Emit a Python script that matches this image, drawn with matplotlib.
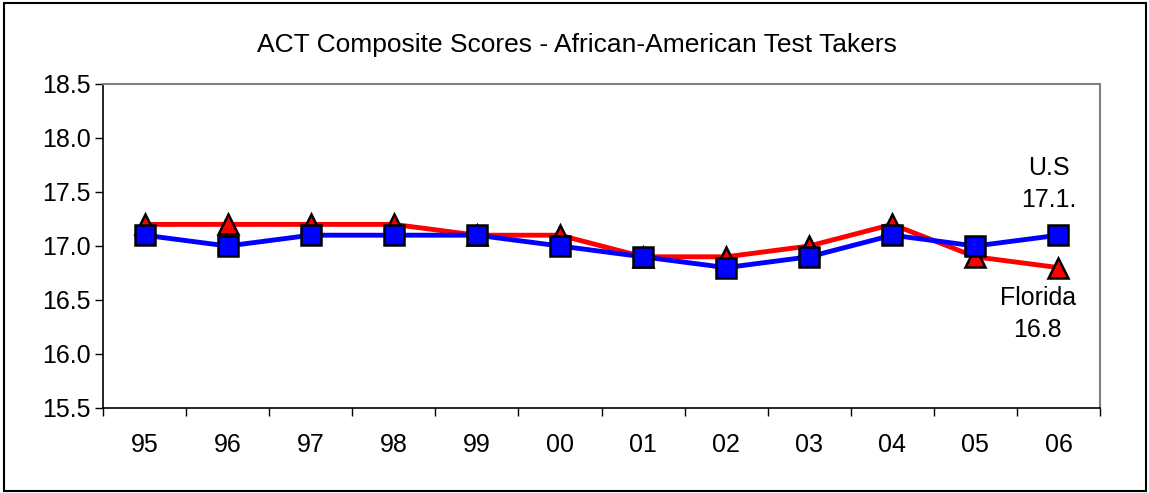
import numpy as np
import matplotlib.pyplot as plt
from matplotlib.patches import Rectangle

plt.rcParams['font.family'] = ['Liberation Sans', 'DejaVu Sans']

years = ['95', '96', '97', '98', '99', '00', '01', '02', '03', '04', '05', '06']
us_scores = [17.1, 17.0, 17.1, 17.1, 17.1, 17.0, 16.9, 16.8, 16.9, 17.1, 17.0, 17.1]
fl_scores = [17.2, 17.2, 17.2, 17.2, 17.1, 17.1, 16.9, 16.9, 17.0, 17.2, 16.9, 16.8]

W, H = 1149, 493
fig = plt.figure(figsize=(W / 100, H / 100), dpi=100)
ax = fig.add_axes([103 / W, 1 - 408 / H, (1100 - 103) / W, (408 - 84) / H])

x = np.arange(len(years))
ax.plot(x, fl_scores, color='#ff0000', lw=3.5, marker='^', ms=15,
        mfc='#ff0000', mec='black', mew=1.8, zorder=3)
ax.plot(x, us_scores, color='#0000ff', lw=3.5, marker='s', ms=14,
        mfc='#0000ff', mec='black', mew=1.8, zorder=4)

ax.set_xlim(-0.5, len(years) - 0.5)
ax.set_ylim(15.5, 18.5)
ax.set_yticks(np.arange(15.5, 18.51, 0.5))
ax.set_yticklabels([f'{v:.1f}' for v in np.arange(15.5, 18.51, 0.5)])
ax.set_xticks(x)
ax.set_xticklabels(years)
ax.set_xticks(np.arange(-0.5, len(years), 1), minor=True)
ax.tick_params(axis='x', which='major', length=0, pad=18, labelsize=18)
ax.tick_params(axis='x', which='minor', length=6, width=1, direction='out')
ax.tick_params(axis='y', length=6, width=1, pad=3, labelsize=18)

for side in ['top', 'right']:
    ax.spines[side].set_color('#808080')
    ax.spines[side].set_linewidth(1.5)
for side in ['left', 'bottom']:
    ax.spines[side].set_color('black')
    ax.spines[side].set_linewidth(1.2)

fig.text(0.5 * (248 + 905) / W, 1 - 45 / H,
         'ACT Composite Scores - African-American Test Takers',
         ha='center', va='center', fontsize=19)

ax.text(10.88, 17.575, 'U.S\n17.1.', ha='center', va='center', fontsize=18,
        linespacing=1.45)
ax.text(10.75, 16.37, 'Florida\n16.8', ha='center', va='center', fontsize=18,
        linespacing=1.45, zorder=5)

fig.patches.append(Rectangle((4 / W, 1 - 491 / H), (1146 - 4) / W, (491 - 3) / H,
                             transform=fig.transFigure, fill=False,
                             edgecolor='black', lw=1.5))

fig.savefig('out.png', dpi=100)
